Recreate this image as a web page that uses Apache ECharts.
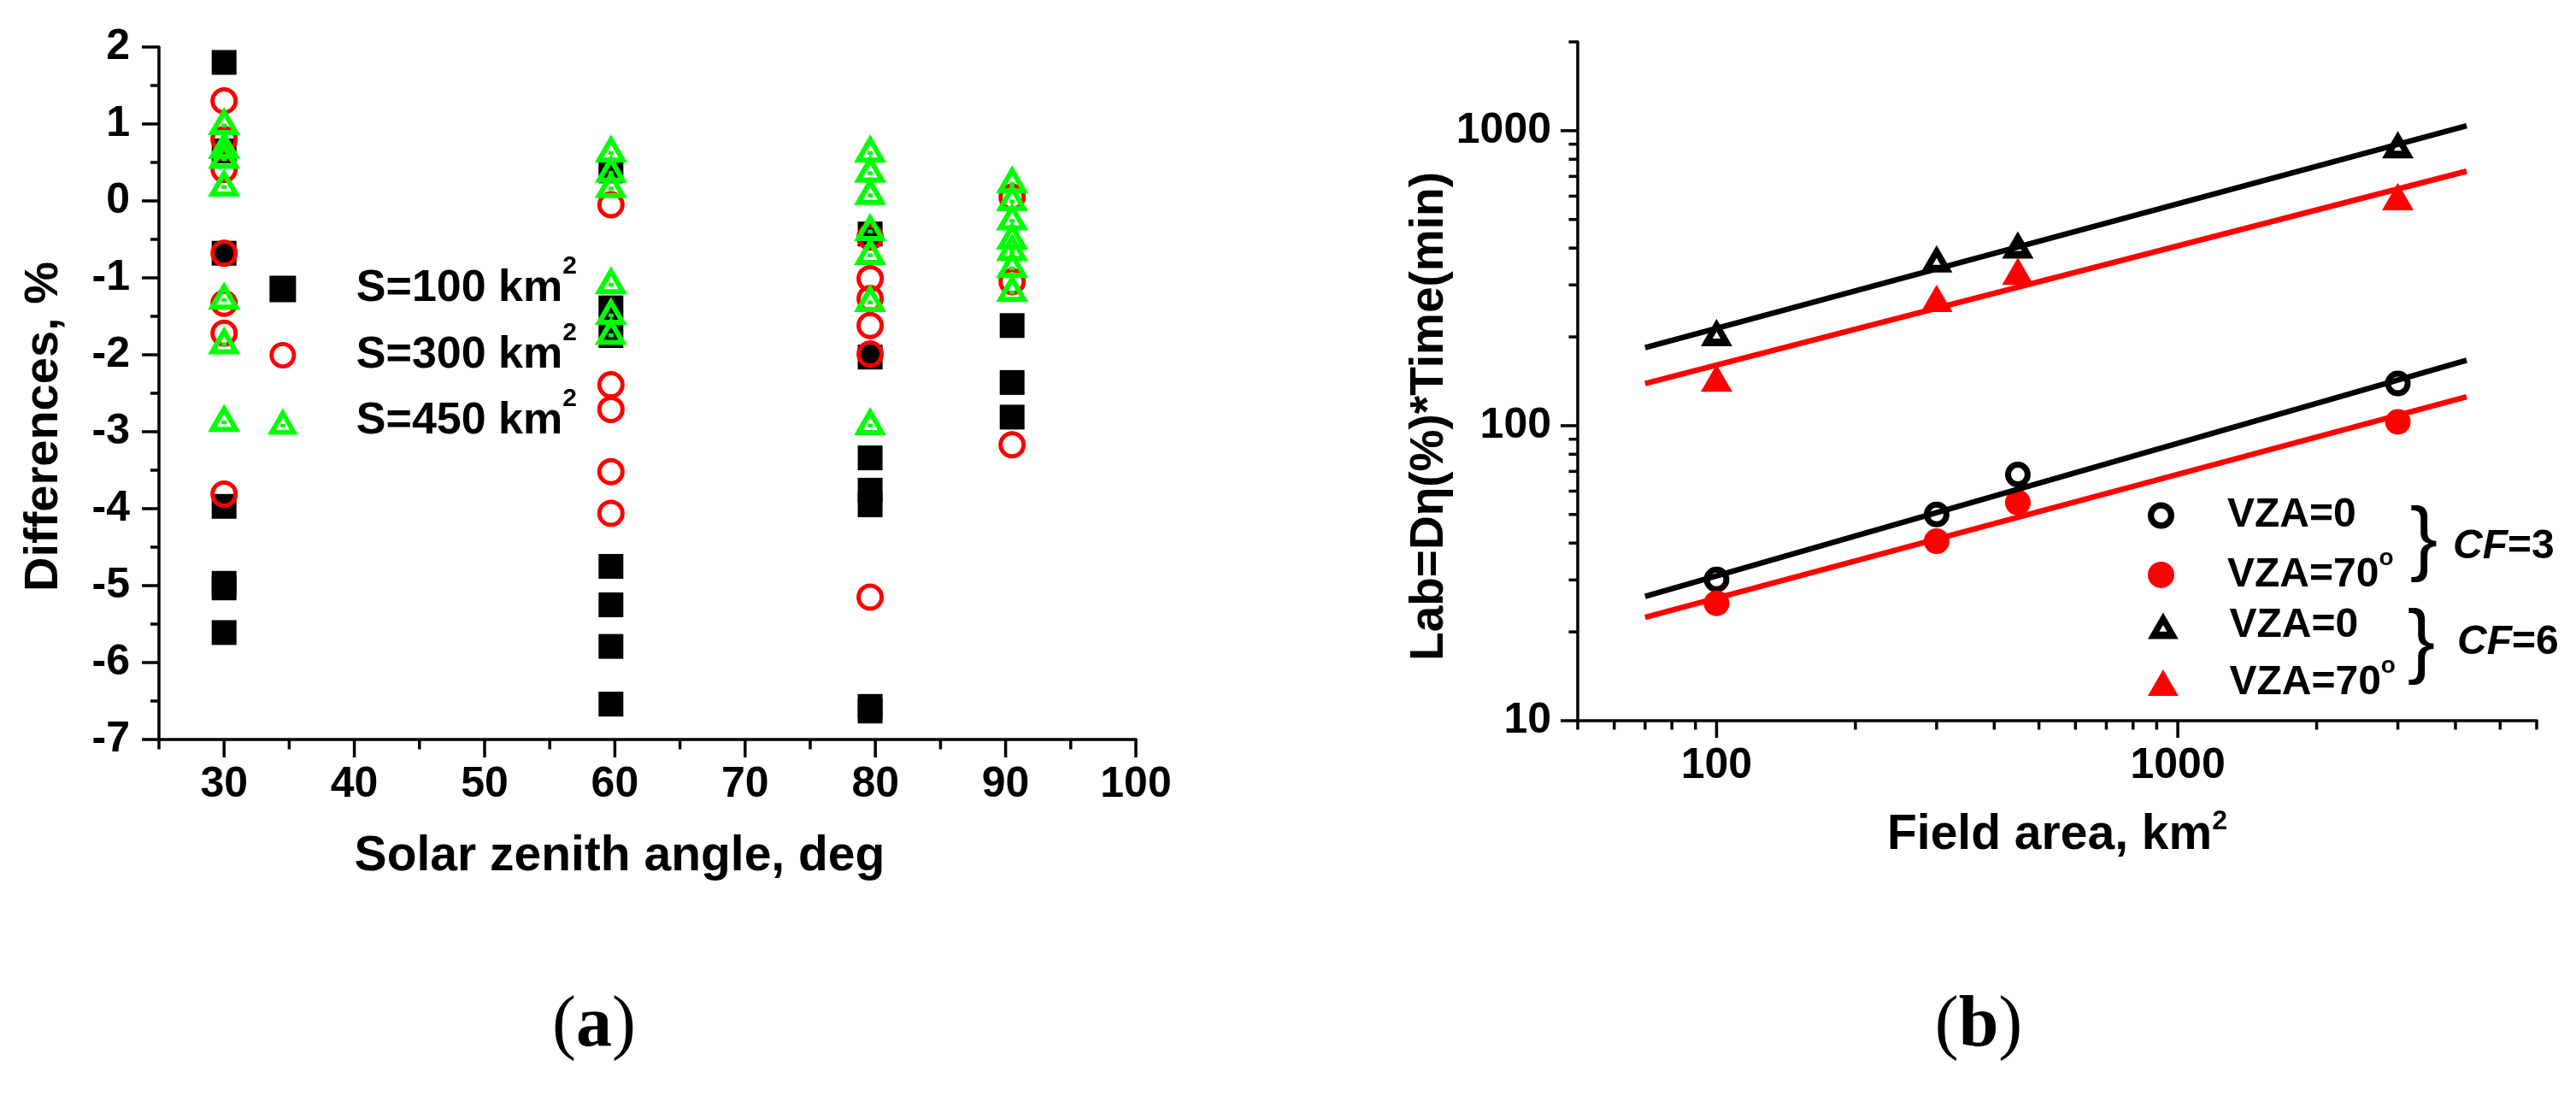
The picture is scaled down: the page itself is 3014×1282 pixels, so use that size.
<!DOCTYPE html>
<html>
<head>
<meta charset="utf-8">
<title>Differences vs solar zenith angle / Lab vs field area</title>
<script src="https://cdn.jsdelivr.net/npm/echarts@6/dist/echarts.min.js"></script>
<style>
  html, body { margin: 0; padding: 0; background: #fff; }
  #chart { width: 3014px; height: 1282px; }
</style>
</head>
<body>
<div id="chart"></div>
<script>
// ---- panel (a): differences (%) per solar zenith angle ----
const zenithAngles = [30, 59.7, 79.6, 90.5];
const diffS100 = [
  [1.8, 0.65, -0.68, -3.97, -4.97, -5.03, -5.61],
  [0.39, -1.39, -1.75, -4.75, -5.25, -5.79, -6.54],
  [-0.43, -2.03, -3.34, -3.76, -3.95, -6.57, -6.63],
  [-1.62, -2.36, -2.81]
];
const diffS300 = [
  [1.30, 0.80, 0.41, -0.68, -1.33, -1.72, -3.81],
  [-0.05, -2.39, -2.71, -3.52, -4.06],
  [-0.47, -1.01, -1.27, -1.62, -1.99, -5.15],
  [0.05, -1.05, -3.17]
];
const diffS450 = [
  [1.04, 0.73, 0.60, 0.24, -1.23, -1.81, -2.82],
  [0.68, 0.42, 0.22, -1.03, -1.43, -1.69],
  [0.68, 0.42, 0.13, -0.34, -0.65, -1.26, -2.86],
  [0.28, 0.05, -0.20, -0.45, -0.60, -0.82, -1.13]
];

// ---- panel (b): Lab vs field area (log-log) ----
const fieldArea = [100, 300, 450, 3000];
const labCf3Vza0 = [30.1, 50.0, 68.3, 139];
const labCf3Vza70 = [25.0, 40.6, 54.9, 103];
const labCf6Vza0 = [207, 368, 410, 896];
const labCf6Vza70 = [145, 270, 334, 598];
// fitted lines, end points
const fitArea = [70, 4230];
const fitCf3Vza0 = [26.4, 166.6];
const fitCf3Vza70 = [22.4, 125.3];
const fitCf6Vza0 = [184, 1039];
const fitCf6Vza70 = [139, 729];

// ---- tick values ----
const aYMajor = [-7, -6, -5, -4, -3, -2, -1, 0, 1, 2];
const aYMinor = [-6.5, -5.5, -4.5, -3.5, -2.5, -1.5, -0.5, 0.5, 1.5];
const aXMajor = [30, 40, 50, 60, 70, 80, 90, 100];
const aXMinor = [25, 35, 45, 55, 65, 75, 85, 95];
const bXMajor = [100, 1000];
const bXMinor = [50, 60, 70, 80, 90, 200, 300, 400, 500, 600, 700, 800, 900, 2000, 3000, 4000, 5000, 6000];
const bYMajor = [10, 100, 1000];
const bYMinor = [20, 30, 40, 50, 60, 70, 80, 90, 200, 300, 400, 500, 600, 700, 800, 900, 2000];

const FONT = '"Liberation Sans", Arial, sans-serif';
const SERIF = '"Liberation Serif", "Times New Roman", serif';

// symbol shapes
function ringPath(R, r) {
  let p = `M${R},0 A${R},${R} 0 1,1 ${R},${2 * R} A${R},${R} 0 1,1 ${R},0 Z`;
  if (r > 0) {
    const t = R - r;
    p += ` M${R},${t} A${r},${r} 0 1,0 ${R},${2 * R - t} A${r},${r} 0 1,0 ${R},${t} Z`;
  }
  return 'path://' + p;
}
const SQUARE = 'path://M0,0 L10,0 L10,10 L0,10 Z';
const GREEN_TRI = 'path://M19,0 L38,33 L0,33 Z M19,12 L10.3,27 L27.7,27 Z M16,19.5 L22,19.5 L22,24 L16,24 Z';
const OPEN_TRI = 'path://M18.5,0 L37,32 L0,32 Z M18.5,15 L13.9,23 L23.1,23 Z';
const FILL_TRI = 'path://M18.5,0 L37,32 L0,32 Z';

function pairs(xs, ys) {
  return xs.map((x, i) => [x, ys[i]]);
}
function columns(xs, cols) {
  return xs.flatMap((x, i) => cols[i].map(y => [x, y]));
}

// tick marks drawn through the axes' own scales
function tickSeries(grid, vals, edge, len, vertical) {
  return {
    type: 'custom',
    xAxisIndex: grid,
    yAxisIndex: grid,
    silent: true,
    clip: false,
    z: 5,
    data: vals.map(v => (vertical ? [edge, v] : [v, edge])),
    renderItem: (params, api) => {
      const p = api.coord([api.value(0), api.value(1)]);
      const shape = vertical
        ? { x1: p[0], y1: p[1], x2: p[0] - len, y2: p[1] }
        : { x1: p[0], y1: p[1], x2: p[0], y2: p[1] + len };
      return { type: 'line', shape: shape, style: { stroke: '#000', lineWidth: 3.5 } };
    }
  };
}

const axisLine = { onZero: false, lineStyle: { color: '#000', width: 3.5 } };
const tickLabel = { color: '#000', fontSize: 50, fontWeight: 'bold', fontFamily: FONT };
const titleStyle = { color: '#000', fontWeight: 'bold', fontFamily: FONT };

function isDecade(v) {
  const l = Math.log10(v);
  return Math.abs(l - Math.round(l)) < 1e-6;
}

const option = {
  backgroundColor: '#fff',
  animation: false,
  grid: [
    { left: 186, top: 55, width: 1143, height: 810 },
    { left: 1846, top: 49, width: 1122, height: 794 }
  ],
  xAxis: [
    {
      gridIndex: 0, type: 'value', min: 25, max: 100, interval: 5,
      axisLine: axisLine, axisTick: { show: false }, splitLine: { show: false },
      axisLabel: Object.assign({ margin: 28, formatter: v => (v % 10 === 0 ? String(v) : '') }, tickLabel),
      name: 'Solar zenith angle, deg', nameLocation: 'middle', nameGap: 109,
      nameTextStyle: Object.assign({ fontSize: 57, padding: [0, 65, 0, 0] }, titleStyle)
    },
    {
      gridIndex: 1, type: 'log', logBase: 10, min: 50, max: 6000,
      axisLine: axisLine, axisTick: { show: false }, splitLine: { show: false },
      axisLabel: Object.assign({
        margin: 28, showMinLabel: false, showMaxLabel: false,
        formatter: v => (isDecade(v) ? String(Math.round(v)) : '')
      }, tickLabel),
      name: 'Field area, km{sup|2}', nameLocation: 'middle', nameGap: 102,
      nameTextStyle: Object.assign({
        fontSize: 57, lineHeight: 65,
        rich: { sup: { fontSize: 32, lineHeight: 32, verticalAlign: 'top', fontWeight: 'bold', fontFamily: FONT, color: '#000' } }
      }, titleStyle)
    }
  ],
  yAxis: [
    {
      gridIndex: 0, type: 'value', min: -7, max: 2, interval: 1,
      axisLine: axisLine, axisTick: { show: false }, splitLine: { show: false },
      axisLabel: Object.assign({ margin: 34, padding: [0, 0, 8, 0] }, tickLabel),
      name: 'Differences, %', nameLocation: 'middle', nameGap: 106,
      nameTextStyle: Object.assign({ fontSize: 56, padding: [0, 78, 0, 0] }, titleStyle)
    },
    {
      gridIndex: 1, type: 'log', logBase: 10, min: 10, max: 2000,
      axisLine: axisLine, axisTick: { show: false }, splitLine: { show: false },
      axisLabel: Object.assign({
        margin: 31, padding: [0, 0, 8, 0], showMaxLabel: false,
        formatter: v => (isDecade(v) ? String(Math.round(v)) : '')
      }, tickLabel),
      name: 'Lab=D\u03b7(%)*Time(min)', nameLocation: 'middle', nameGap: 139,
      nameTextStyle: Object.assign({ fontSize: 55, padding: [0, 82, 0, 0] }, titleStyle)
    }
  ],
  legend: [
    {
      data: ['S=100 km\u00b2', 'S=300 km\u00b2', 'S=450 km\u00b2'],
      orient: 'vertical', left: 308, top: 292, itemWidth: 38, itemHeight: 31, itemGap: -4.5,
      selectedMode: false,
      formatter: n => n.replace('\u00b2', '{sup|2}'),
      textStyle: {
        color: '#000', fontSize: 52, fontWeight: 'bold', fontFamily: FONT, lineHeight: 82, padding: [0, 0, 0, 62],
        rich: { sup: { color: '#000', fontSize: 30, fontWeight: 'bold', fontFamily: FONT, lineHeight: 30, verticalAlign: 'top' } }
      }
    },
    {
      data: ['CF=3, VZA=0', 'CF=3, VZA=70'],
      orient: 'vertical', left: 2508, top: 565, itemWidth: 37, itemHeight: 31, itemGap: 3.4,
      selectedMode: false,
      formatter: n => (n.indexOf('70') > 0 ? 'VZA=70{sup|o}' : 'VZA=0'),
      textStyle: {
        color: '#000', fontSize: 48, fontWeight: 'bold', fontFamily: FONT, lineHeight: 66, padding: [0, 0, 0, 54],
        rich: { sup: { color: '#000', fontSize: 28, fontWeight: 'bold', fontFamily: FONT, lineHeight: 28, verticalAlign: 'top' } }
      }
    },
    {
      data: ['CF=6, VZA=0', 'CF=6, VZA=70'],
      orient: 'vertical', left: 2508, top: 694, itemWidth: 37, itemHeight: 31, itemGap: 0.6,
      selectedMode: false,
      formatter: n => (n.indexOf('70') > 0 ? 'VZA=70{sup|o}' : 'VZA=0'),
      textStyle: {
        color: '#000', fontSize: 48, fontWeight: 'bold', fontFamily: FONT, lineHeight: 66, padding: [0, 0, 0, 54],
        rich: { sup: { color: '#000', fontSize: 28, fontWeight: 'bold', fontFamily: FONT, lineHeight: 28, verticalAlign: 'top' } }
      }
    }
  ],
  graphic: [
    { type: 'text', x: 2836, y: 634, z: 10,
      style: { text: '}', fill: '#000', font: 'normal 97px ' + FONT, align: 'center', verticalAlign: 'middle' } },
    { type: 'text', x: 2833, y: 754, z: 10,
      style: { text: '}', fill: '#000', font: 'normal 97px ' + FONT, align: 'center', verticalAlign: 'middle' } },
    { type: 'text', x: 2870, y: 640, z: 10,
      style: {
        text: '{i|CF}=3', fill: '#000', fontSize: 48, fontWeight: 'bold', fontFamily: FONT,
        align: 'left', verticalAlign: 'middle',
        rich: { i: { fontStyle: 'italic', fontSize: 48, fontWeight: 'bold', fontFamily: FONT, fill: '#000' } }
      } },
    { type: 'text', x: 2875, y: 752, z: 10,
      style: {
        text: '{i|CF}=6', fill: '#000', fontSize: 48, fontWeight: 'bold', fontFamily: FONT,
        align: 'left', verticalAlign: 'middle',
        rich: { i: { fontStyle: 'italic', fontSize: 48, fontWeight: 'bold', fontFamily: FONT, fill: '#000' } }
      } },
    { type: 'text', x: 695, y: 1201, z: 10,
      style: {
        text: '({b|a})', fill: '#000', fontSize: 84, fontFamily: SERIF, align: 'center', verticalAlign: 'middle',
        rich: { b: { fontSize: 84, fontWeight: 'bold', fontFamily: SERIF, fill: '#000' } }
      } },
    { type: 'text', x: 2315, y: 1201, z: 10,
      style: {
        text: '({b|b})', fill: '#000', fontSize: 84, fontFamily: SERIF, align: 'center', verticalAlign: 'middle',
        rich: { b: { fontSize: 84, fontWeight: 'bold', fontFamily: SERIF, fill: '#000' } }
      } }
  ],
  series: [
    // panel (a)
    { name: 'S=100 km\u00b2', type: 'scatter', xAxisIndex: 0, yAxisIndex: 0,
      symbol: SQUARE, symbolSize: 29, itemStyle: { color: '#000', opacity: 1 },
      data: columns(zenithAngles, diffS100) },
    { name: 'S=300 km\u00b2', type: 'scatter', xAxisIndex: 0, yAxisIndex: 0,
      symbol: ringPath(16, 11), symbolSize: 32, itemStyle: { color: '#ff0000', opacity: 1 },
      data: columns(zenithAngles, diffS300) },
    { name: 'S=450 km\u00b2', type: 'scatter', xAxisIndex: 0, yAxisIndex: 0,
      symbol: GREEN_TRI, symbolSize: [38, 33], itemStyle: { color: '#00ff00', opacity: 1 },
      data: columns(zenithAngles, diffS450) },

    // panel (b) fitted lines
    { type: 'line', xAxisIndex: 1, yAxisIndex: 1, symbol: 'none', silent: true,
      lineStyle: { color: '#000', width: 6.5 }, data: pairs(fitArea, fitCf6Vza0) },
    { type: 'line', xAxisIndex: 1, yAxisIndex: 1, symbol: 'none', silent: true,
      lineStyle: { color: '#ff0000', width: 6.5 }, data: pairs(fitArea, fitCf6Vza70) },
    { type: 'line', xAxisIndex: 1, yAxisIndex: 1, symbol: 'none', silent: true,
      lineStyle: { color: '#000', width: 6.5 }, data: pairs(fitArea, fitCf3Vza0) },
    { type: 'line', xAxisIndex: 1, yAxisIndex: 1, symbol: 'none', silent: true,
      lineStyle: { color: '#ff0000', width: 6.5 }, data: pairs(fitArea, fitCf3Vza70) },

    // panel (b) points
    { name: 'CF=3, VZA=0', type: 'scatter', xAxisIndex: 1, yAxisIndex: 1,
      symbol: ringPath(15, 8), symbolSize: 30, itemStyle: { color: '#000', opacity: 1 },
      data: pairs(fieldArea, labCf3Vza0) },
    { name: 'CF=3, VZA=70', type: 'scatter', xAxisIndex: 1, yAxisIndex: 1,
      symbol: ringPath(15, 0), symbolSize: 30, itemStyle: { color: '#ff0000', opacity: 1 },
      data: pairs(fieldArea, labCf3Vza70) },
    { name: 'CF=6, VZA=0', type: 'scatter', xAxisIndex: 1, yAxisIndex: 1,
      symbol: OPEN_TRI, symbolSize: [37, 32], itemStyle: { color: '#000', opacity: 1 },
      data: pairs(fieldArea, labCf6Vza0) },
    { name: 'CF=6, VZA=70', type: 'scatter', xAxisIndex: 1, yAxisIndex: 1,
      symbol: FILL_TRI, symbolSize: [37, 32], itemStyle: { color: '#ff0000', opacity: 1 },
      data: pairs(fieldArea, labCf6Vza70) },

    // axis ticks
    tickSeries(0, aYMajor, 25, 20, true),
    tickSeries(0, aYMinor, 25, 10, true),
    tickSeries(0, aXMajor, -7, 21, false),
    tickSeries(0, aXMinor, -7, 11.5, false),
    tickSeries(1, bYMajor, 50, 20, true),
    tickSeries(1, bYMinor, 50, 10.5, true),
    tickSeries(1, bXMajor, 10, 20, false),
    tickSeries(1, bXMinor, 10, 10.5, false)
  ]
};

const chart = echarts.init(document.getElementById('chart'));
chart.setOption(option);
</script>
</body>
</html>
